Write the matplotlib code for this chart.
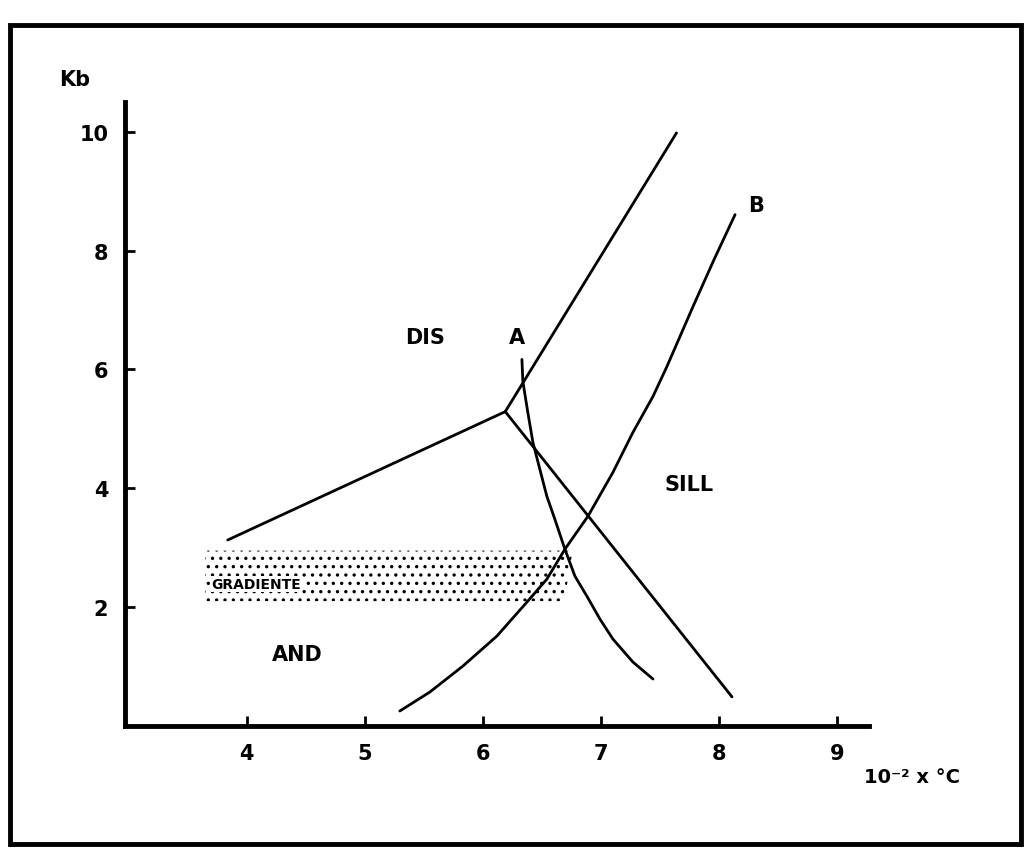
import matplotlib
matplotlib.use("Agg")
import matplotlib.pyplot as plt
from matplotlib.patches import Rectangle, Polygon

# ---- data (temperature in 10^2 °C, pressure in Kb) ----
x_ticks = [4, 5, 6, 7, 8, 9]
y_ticks = [2, 4, 6, 8, 10]

# AND / DIS boundary
and_dis_x = [3.84, 6.19]
and_dis_y = [3.13, 5.29]
# DIS / SILL boundary
dis_sill_x = [6.19, 7.64]
dis_sill_y = [5.29, 9.98]
# AND / SILL boundary
and_sill_x = [6.19, 8.11]
and_sill_y = [5.29, 0.49]

# curve A
curveA_x = [6.331, 6.339, 6.381, 6.424, 6.483, 6.542, 6.610, 6.695,
            6.780, 6.881, 6.992, 7.102, 7.271, 7.441]
curveA_y = [6.168, 5.798, 5.277, 4.773, 4.319, 3.866, 3.479, 2.975,
            2.521, 2.185, 1.798, 1.462, 1.076, 0.790]
# curve B
curveB_x = [5.297, 5.551, 5.831, 6.119, 6.373, 6.542, 6.695, 6.890,
            7.102, 7.271, 7.441, 7.559, 7.780, 7.958, 8.136]
curveB_y = [0.252, 0.571, 1.008, 1.513, 2.084, 2.471, 2.975, 3.529,
            4.269, 4.941, 5.546, 6.050, 7.059, 7.849, 8.605]

# gradient band (stippled)
band_x = [3.65, 6.76, 6.69, 3.65]
band_y = [2.95, 2.95, 2.10, 2.10]

labels = ["DIS", "A", "B", "SILL", "AND"]
label_x = [5.51, 6.29, 8.31, 7.75, 4.43]
label_y = [6.54, 6.54, 8.77, 4.07, 1.21]

plt.rcParams['hatch.linewidth'] = 1.2

fig = plt.figure(figsize=(10.28, 8.62), dpi=100)
ax = fig.add_axes([125/1028, 1-727/862, (869-125)/1028, (727-103)/862])
ax.set_xlim(2.97, 9.27)
ax.set_ylim(0, 10.5)

for s in ['top', 'right']:
    ax.spines[s].set_visible(False)
for s in ['left', 'bottom']:
    ax.spines[s].set_linewidth(3.5)

ax.set_xticks(x_ticks)
ax.set_yticks(y_ticks)
ax.tick_params(direction='in', length=7, width=2, labelsize=15, pad=12)
for lab in ax.get_xticklabels() + ax.get_yticklabels():
    lab.set_fontweight('bold')

lw = 2.0
ax.add_patch(Polygon(list(zip(band_x, band_y)), closed=True, facecolor='none',
                     edgecolor='black', hatch='..', linewidth=0))
ax.plot(and_dis_x, and_dis_y, color='black', lw=lw, solid_capstyle='round')
ax.plot(dis_sill_x, dis_sill_y, color='black', lw=lw, solid_capstyle='round')
ax.plot(and_sill_x, and_sill_y, color='black', lw=lw, solid_capstyle='round')
ax.plot(curveA_x, curveA_y, color='black', lw=lw, solid_capstyle='round',
        solid_joinstyle='round')
ax.plot(curveB_x, curveB_y, color='black', lw=lw, solid_capstyle='round',
        solid_joinstyle='round')

for t, x, y in zip(labels, label_x, label_y):
    ax.text(x, y, t, fontsize=15, fontweight='bold', ha='center', va='center')

ax.text(4.08, 2.39, "GRADIENTE", fontsize=10, fontweight='bold', ha='center',
        va='center', bbox=dict(facecolor='white', edgecolor='none', pad=0.5))

fig.text(75/1028, 1-80/862, "Kb", fontsize=15, fontweight='bold', ha='center', va='center')
fig.text(912/1028, 1-778/862, "10\u207b\u00b2 x \u00b0C", fontsize=14, fontweight='bold',
         ha='center', va='center')

# outer frame
fig.patches.append(Rectangle((10/1028, 1-845/862), (1021-10)/1028, (845-26)/862,
                             transform=fig.transFigure, fill=False, edgecolor='black',
                             linewidth=3.5))

fig.savefig("out.png", dpi=100, facecolor='white')
